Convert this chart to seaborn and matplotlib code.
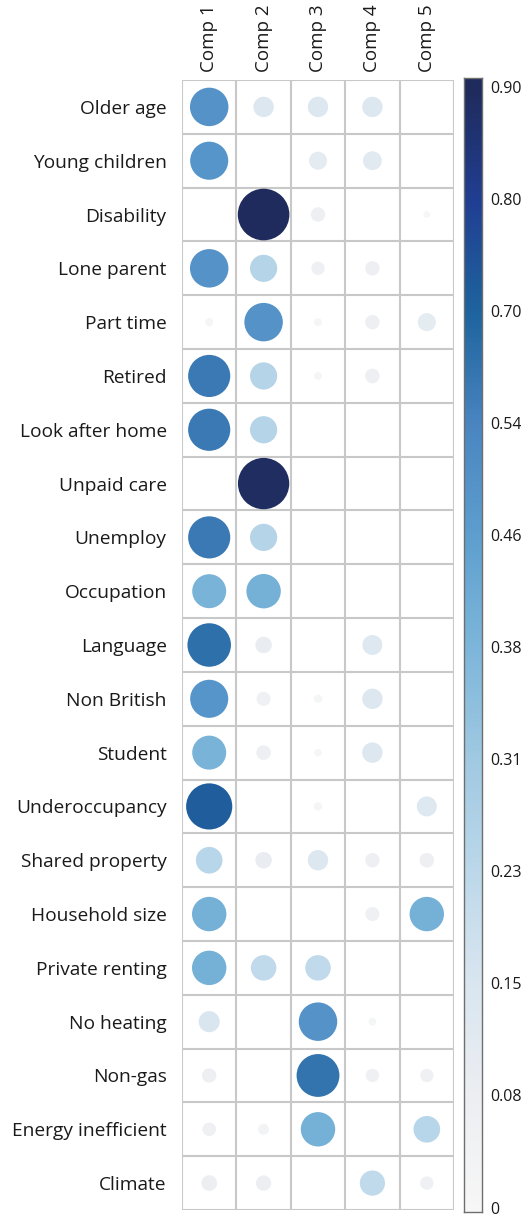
import numpy as np
import pandas as pd
import matplotlib
matplotlib.use("Agg")
import matplotlib.pyplot as plt
import matplotlib.colors as mcolors
import seaborn as sns

rows = ["Older age", "Young children", "Disability", "Lone parent", "Part time",
        "Retired", "Look after home", "Unpaid care", "Unemploy", "Occupation",
        "Language", "Non British", "Student", "Underoccupancy", "Shared property",
        "Household size", "Private renting", "No heating", "Non-gas",
        "Energy inefficient", "Climate"]
comps = ["Comp 1", "Comp 2", "Comp 3", "Comp 4", "Comp 5"]

comp1 = [0.50, 0.49, 0.00, 0.50, 0.023, 0.60, 0.60, 0.00, 0.60, 0.39, 0.64,
         0.49, 0.39, 0.72, 0.24, 0.40, 0.40, 0.15, 0.07, 0.063, 0.083]
comp2 = [0.14, 0.00, 0.90, 0.25, 0.50, 0.25, 0.25, 0.89, 0.25, 0.40, 0.093,
         0.066, 0.072, 0.00, 0.093, 0.00, 0.22, 0.00, 0.00, 0.04, 0.079]
comp3 = [0.14, 0.11, 0.07, 0.06, 0.02, 0.02, 0.00, 0.00, 0.00, 0.00, 0.00,
         0.023, 0.018, 0.023, 0.14, 0.00, 0.22, 0.50, 0.62, 0.40, 0.00]
comp4 = [0.14, 0.12, 0.00, 0.07, 0.07, 0.072, 0.00, 0.00, 0.00, 0.00, 0.134,
         0.14, 0.14, 0.00, 0.07, 0.066, 0.00, 0.02, 0.06, 0.00, 0.215]
comp5 = [0.00, 0.00, 0.015, 0.00, 0.11, 0.00, 0.00, 0.00, 0.00, 0.00, 0.00,
         0.00, 0.00, 0.134, 0.072, 0.40, 0.00, 0.00, 0.06, 0.24, 0.06]

tick_vals = [0, 0.08, 0.15, 0.23, 0.31, 0.38, 0.46, 0.54, 0.70, 0.80, 0.90]
tick_labels = ["0", "0.08", "0.15", "0.23", "0.31", "0.38", "0.46", "0.54",
               "0.70", "0.80", "0.90"]
tick_colors = ["#f7f7f7", "#eceef2", "#d9e6f0", "#bcd8ea", "#a0c9e2", "#7db6da",
               "#5e9fcf", "#4a85c0", "#1e649e", "#213f93", "#1f2b5c"]

# long-form data
records = []
for ci, vals in enumerate([comp1, comp2, comp3, comp4, comp5]):
    for ri, v in enumerate(vals):
        if v > 0:
            records.append({"comp": ci, "row": ri, "value": v})
df = pd.DataFrame(records)

tick_pos = np.linspace(0, 1, len(tick_vals))
cmap = mcolors.LinearSegmentedColormap.from_list(
    "cb", list(zip(tick_pos, tick_colors)))

def fwd(v):
    return np.interp(v, tick_vals, tick_pos)

def inv(p):
    return np.interp(p, tick_pos, tick_vals)

norm = mcolors.FuncNorm((fwd, inv), vmin=0, vmax=0.9)

sns.set_style("white")
plt.rcParams["font.family"] = ["Open Sans", "DejaVu Sans"]

W, H = 521, 1217
fig = plt.figure(figsize=(W / 100, H / 100), dpi=100)
ax = fig.add_axes([182 / W, (H - 1210) / H, 272 / W, 1130 / H])

cell_px = 272 / 5
max_s = (cell_px * 0.72) ** 2  # points^2 for value 1.0
sns.scatterplot(data=df, x="comp", y="row", hue="value", size="value",
                palette=cmap, hue_norm=norm, size_norm=(0, 1),
                sizes=(0, max_s), linewidth=0, legend=False, ax=ax)

ax.set_xlim(-0.5, 4.5)
ax.set_ylim(20.5, -0.5)
grid_c = "#c8c8c8"
for x in np.arange(-0.5, 5, 1):
    ax.axvline(x, color=grid_c, lw=1.5, zorder=0)
for y in np.arange(-0.5, 21, 1):
    ax.axhline(y, color=grid_c, lw=1.5, zorder=0)
for s in ax.spines.values():
    s.set_visible(False)

ax.set_xticks(range(5))
ax.set_xticklabels(comps, rotation=90, fontsize=13.5)
ax.xaxis.tick_top()
ax.set_yticks(range(21))
ax.set_yticklabels(rows, fontsize=13.8)
ax.tick_params(axis="x", length=0, pad=6, colors="#1a1a1a")
ax.tick_params(axis="y", length=0, pad=11, colors="#1a1a1a")
ax.set_xlabel("")
ax.set_ylabel("")

# colorbar
cax = fig.add_axes([464 / W, (H - 1212) / H, 18 / W, 1134 / H])
lo = -0.004
hi = 1.008
grad = np.linspace(lo, hi, 512).reshape(-1, 1)
cax.imshow(grad, aspect="auto", cmap=cmap, vmin=0, vmax=1,
           extent=[0, 1, lo, hi], origin="lower")
cax.set_ylim(lo, hi)
cax.set_xticks([])
cax.yaxis.tick_right()
cax.set_yticks(tick_pos)
cax.set_yticklabels(tick_labels, fontsize=11.5)
cax.tick_params(axis="y", length=0, pad=6, colors="#1a1a1a")
for s in cax.spines.values():
    s.set_color("#6e6e6e")
    s.set_linewidth(1.0)

fig.savefig("out.png", dpi=100, facecolor="white")
